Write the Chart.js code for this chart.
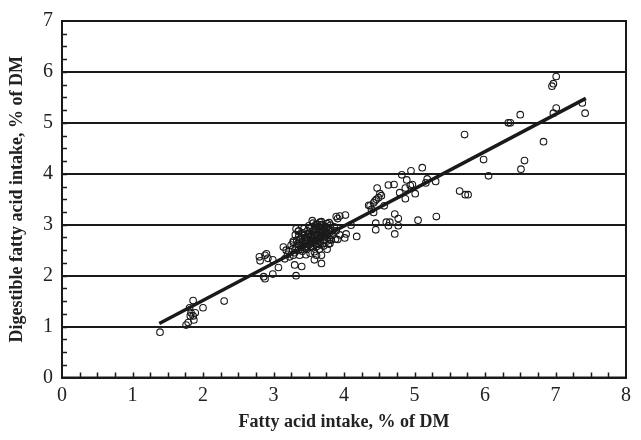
<!DOCTYPE html>
<html>
<head>
<meta charset="utf-8">
<script src="https://cdn.jsdelivr.net/npm/chart.js@4.4.0/dist/chart.umd.min.js"></script>
<style>
  html, body { margin: 0; padding: 0; background: #fff; }
  #wrap { width: 641px; height: 440px; }
</style>
</head>
<body>
<div id="wrap"><canvas id="chart"></canvas></div>
<script>
// Fatty acid intake (x) and digestible fatty acid intake (y), % of DM
const intake = [
  1.39, 1.76, 1.79, 1.82, 1.86, 1.83, 1.89, 1.87, 1.81, 1.86, 2.00, 2.30,
  3.55, 3.68, 3.79, 3.89, 3.94, 4.02, 3.91, 4.10, 4.18, 4.03, 4.01, 3.91, 3.94, 3.89, 3.80, 3.76, 3.80,
  3.68, 3.68, 3.58, 3.61, 3.40, 3.30, 3.32, 3.35, 3.32, 3.14, 3.18, 3.28, 3.23, 3.28, 3.16, 3.07,
  2.80, 2.81, 2.88, 2.90, 2.92, 2.99, 2.86, 2.88, 2.99,
  3.30, 3.32, 3.34, 3.33, 3.36, 3.35, 3.38, 3.40, 3.39, 3.42, 3.41, 3.44, 3.45, 3.46, 3.44, 3.48,
  3.47, 3.50, 3.49, 3.52, 3.51, 3.53, 3.54, 3.56, 3.55, 3.58, 3.57, 3.59, 3.60, 3.62, 3.61, 3.63,
  3.64, 3.62, 3.66, 3.67, 3.68, 3.69, 3.70, 3.72, 3.73, 3.74, 3.75, 3.76, 3.77, 3.79, 3.80, 3.81,
  3.83, 3.84, 3.78, 3.71, 3.65, 3.58, 3.52, 3.46, 3.37, 3.43, 3.50, 3.56, 3.66, 3.86, 3.88, 3.25,
  3.28, 3.27, 3.22, 3.31, 3.36, 3.20,
  3.42, 3.47, 3.52, 3.57, 3.62, 3.67, 3.72, 3.45, 3.50, 3.55, 3.60, 3.65, 3.70, 3.39, 3.44, 3.49,
  3.54, 3.59, 3.64, 3.69, 3.74, 3.56, 3.61, 3.66, 3.71, 3.76, 3.40, 3.53, 3.58, 3.63, 3.48, 3.35,
  3.37, 3.78, 3.82, 3.73, 3.68, 3.60,
  5.11, 4.95, 4.82, 4.89, 4.94, 4.87, 4.97, 5.01, 4.87, 4.79, 5.18, 5.16, 5.30, 4.63, 4.71,
  4.47, 4.51, 4.53, 4.49, 4.44, 4.42, 4.35, 4.37, 4.39, 4.42, 4.57, 4.46, 5.31, 5.05,
  4.72, 4.77, 4.65, 4.60, 4.63, 4.77, 4.45, 4.45, 4.72,
  7.01, 6.97, 6.95, 7.01, 6.97, 7.38, 7.42, 6.50, 6.33, 6.36, 5.71, 6.83, 5.98, 6.56, 6.51,
  6.05, 5.64, 5.72, 5.76
];
const digestible = [
  0.89, 1.03, 1.08, 1.21, 1.21, 1.27, 1.27, 1.13, 1.37, 1.51, 1.37, 1.50,
  3.08, 3.06, 3.04, 3.16, 3.17, 3.19, 3.12, 2.99, 2.77, 2.82, 2.74, 2.71, 2.80, 2.88, 2.63, 2.52, 2.71,
  2.40, 2.24, 2.31, 2.40, 2.18, 2.21, 2.00, 2.87, 2.92, 2.56, 2.50, 2.65, 2.37, 2.40, 2.33, 2.16,
  2.37, 2.29, 2.40, 2.43, 2.34, 2.31, 1.98, 1.94, 2.03,
  2.45, 2.55, 2.62, 2.70, 2.78, 2.50, 2.58, 2.66, 2.74, 2.84, 2.48, 2.55, 2.62, 2.71, 2.79, 2.88,
  2.52, 2.60, 2.68, 2.76, 2.83, 2.93, 2.57, 2.64, 2.72, 2.80, 2.88, 2.97, 2.61, 2.69, 2.77, 2.85,
  2.93, 3.01, 2.66, 2.74, 2.82, 2.90, 2.98, 2.70, 2.78, 2.86, 2.95, 3.02, 2.75, 2.83, 2.91, 2.99,
  2.79, 2.88, 2.62, 2.58, 2.52, 2.47, 2.44, 2.41, 2.40, 2.92, 2.98, 3.03, 3.05, 2.96, 2.72, 2.60,
  2.68, 2.52, 2.47, 2.80, 2.88, 2.42,
  2.60, 2.66, 2.70, 2.75, 2.80, 2.86, 2.92, 2.75, 2.80, 2.86, 2.91, 2.96, 2.88, 2.52, 2.68, 2.74,
  2.80, 2.70, 2.74, 2.78, 2.82, 2.55, 2.57, 2.61, 2.64, 2.68, 2.82, 2.65, 2.92, 2.63, 2.57, 2.63,
  2.71, 2.90, 2.70, 2.97, 3.00, 3.00,
  4.12, 4.06, 3.98, 3.88, 3.77, 3.72, 3.79, 3.61, 3.51, 3.63, 3.90, 3.82, 3.85, 3.78, 3.79,
  3.72, 3.61, 3.57, 3.53, 3.47, 3.43, 3.38, 3.37, 3.30, 3.24, 3.37, 3.50, 3.16, 3.09,
  3.21, 3.12, 3.05, 3.05, 2.98, 2.98, 3.03, 2.90, 2.82,
  5.91, 5.77, 5.72, 5.29, 5.19, 5.39, 5.19, 5.16, 5.00, 5.00, 4.77, 4.63, 4.28, 4.26, 4.09,
  3.96, 3.66, 3.59, 3.59
];

// regression line end points
const fitX = [1.38, 7.43];
const fitY = [1.06, 5.48];

const xMax = 8;
const yMax = 7;
const minorStep = 0.25;

const serif = 'Liberation Serif, Times New Roman, serif';

// inward minor ticks plus the box round the plot area
const frameTicks = {
  id: 'frameTicks',
  afterDraw(chart) {
    const { ctx, chartArea: a, scales } = chart;
    ctx.save();
    ctx.strokeStyle = '#1a1a1a';
    ctx.lineWidth = 1.5;
    ctx.beginPath();
    for (let v = minorStep; v < xMax; v += minorStep) {
      const px = Math.round(scales.x.getPixelForValue(v)) + 0.5;
      ctx.moveTo(px, a.bottom);
      ctx.lineTo(px, a.bottom - 5);
    }
    for (let v = minorStep; v < yMax; v += minorStep) {
      const py = Math.round(scales.y.getPixelForValue(v)) + 0.5;
      ctx.moveTo(a.left, py);
      ctx.lineTo(a.left + 5, py);
    }
    ctx.stroke();
    ctx.lineWidth = 2;
    ctx.strokeRect(a.left, a.top, a.right - a.left, a.bottom - a.top);
    ctx.restore();
  }
};

const points = intake.map((v, i) => ({ x: v, y: digestible[i] }));
const fitLine = fitX.map((v, i) => ({ x: v, y: fitY[i] }));

new Chart(document.getElementById('chart'), {
  type: 'scatter',
  data: {
    datasets: [
      {
        label: 'Fit',
        data: fitLine,
        showLine: true,
        borderColor: '#1a1a1a',
        borderWidth: 3.5,
        pointRadius: 0
      },
      {
        label: 'Observed',
        data: points,
        pointStyle: 'circle',
        pointRadius: 3.3,
        borderWidth: 1.1,
        borderColor: '#1a1a1a',
        backgroundColor: 'rgba(255,255,255,0)'
      }
    ]
  },
  options: {
    responsive: true,
    maintainAspectRatio: false,
    animation: false,
    layout: { padding: { top: 15, right: 15, left: 0, bottom: 0 } },
    plugins: {
      legend: { display: false },
      tooltip: { enabled: false }
    },
    scales: {
      x: {
        type: 'linear',
        min: 0,
        max: xMax,
        afterFit(scale) { scale.height = 62.5; },
        ticks: {
          stepSize: 1,
          color: '#222',
          padding: 6,
          font: { family: serif, size: 20 }
        },
        grid: { display: false, drawTicks: false },
        border: { display: true, color: '#1a1a1a', width: 2 },
        title: {
          display: true,
          text: 'Fatty acid intake, % of DM',
          color: '#222',
          font: { family: serif, size: 18, weight: 'bold' },
          padding: { top: 0, bottom: 7 }
        }
      },
      y: {
        type: 'linear',
        min: 0,
        max: yMax,
        afterFit(scale) { scale.width = 62; },
        ticks: {
          stepSize: 1,
          color: '#222',
          padding: 9,
          font: { family: serif, size: 20 }
        },
        grid: {
          drawTicks: false,
          lineWidth: 2,
          color: (c) => (c.tick && c.tick.value > 0 && c.tick.value < yMax) ? '#1a1a1a' : 'rgba(0,0,0,0)'
        },
        border: { display: true, color: '#1a1a1a', width: 2 },
        title: {
          display: true,
          text: 'Digestible fatty acid intake, % of DM',
          color: '#222',
          font: { family: serif, size: 18, weight: 'bold' },
          padding: { top: 7, bottom: 0 }
        }
      }
    }
  },
  plugins: [frameTicks]
});
</script>
</body>
</html>
